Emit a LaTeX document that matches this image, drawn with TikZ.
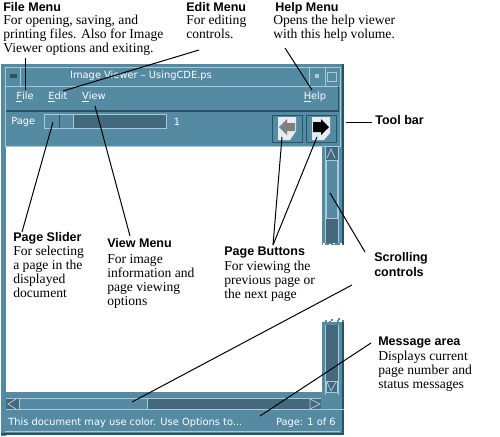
\documentclass[tikz,border=0pt]{standalone}
\usepackage{fontspec}
\setmainfont{Liberation Serif}
\newfontfamily\headfont{Liberation Sans}
\newfontfamily\uifont{DejaVu Sans}
\definecolor{teal1}{HTML}{558AA3}
\definecolor{tealdark}{HTML}{2A5267}
\definecolor{teallight}{HTML}{A8CAD8}
\definecolor{trough}{HTML}{44697C}
\tikzset{
 x=0.75pt,y=-0.75pt,
 head/.style={anchor=north west,inner sep=0pt,font=\headfont\bfseries\fontsize{9.4pt}{11pt}\selectfont},
 body/.style={anchor=north west,inner sep=0pt,align=left,font=\fontsize{10.2pt}{10.5pt}\selectfont},
 ui/.style={inner sep=0pt,text=white,font=\uifont\fontsize{7.4pt}{9pt}\selectfont},
 leader/.style={draw=black,line width=0.75pt},
 bevel/.style={draw=teallight,line width=0.6pt},
 groove/.style={draw=tealdark,line width=0.75pt},
}
\begin{document}
\begin{tikzpicture}
\useasboundingbox (0,0) rectangle (500,436);
\fill[white] (0,0) rectangle (500,436);
% window body
\fill[teal1] (1,64) rectangle (344,147);
\fill[teal1] (1,147) rectangle (6,436);
\fill[teal1] (1,392) rectangle (344,434);
\fill[teal1] (322,147) rectangle (344,245);
\fill[teal1] (322,322) rectangle (344,434);
\fill[tealdark] (342,64) rectangle (344,245);
\fill[tealdark] (342,322) rectangle (344,434);
\fill[tealdark] (1,433) rectangle (344,435);
\draw[bevel] (5,67) rectangle (340,146);
% ragged ends of the cut window
\foreach \xa/\ya in {323/243,326/241,329/244,333/242,337/245,340/243,325/246,331/247,338/248,342/246}
  \fill[white] (\xa,\ya) rectangle (\xa+2,\ya+2);
\foreach \xa/\ya in {323/322,326/324,329/321,333/323,337/320,340/322,325/320,331/319,338/318,342/320}
  \fill[teal1] (\xa,\ya) rectangle (\xa+2,\ya+2);
% title bar
\draw[bevel] (5,67) -- (340,67) (20,67) -- (20,86) (309,67) -- (309,86) (325,67) -- (325,86) (5,86) -- (340,86);
\fill[tealdark] (10,74) rectangle (17,78);
\fill[teallight] (315,74) rectangle (319,78);
\draw[bevel] (327,72) rectangle (336,81);
\node[ui] (title) at (141,76) {Image Viewer – UsingCDE.ps};
% menu bar
\node[ui] (mfile) at (25,97) {\underline{F}ile};
\node[ui] (medit) at (58,97) {\underline{E}dit};
\node[ui] (mview) at (94,97) {\underline{V}iew};
\node[ui] (mhelp) at (315,97) {\underline{H}elp};
\fill[tealdark] (6,110) rectangle (338,112);
\draw[groove] (338,86) -- (338,112);
% tool bar
\node[ui,anchor=west] (plabel) at (11,122) {Page};
\fill[trough] (44,114) rectangle (166,128);
\draw[bevel] (44,114) rectangle (166,128);
\draw[bevel,fill=teal1] (44,114) rectangle (73,128);
\draw[groove] (59,115) -- (59,128);
\node[ui] (pnum) at (177,122) {1};
\draw[groove] (272,115) rectangle (302,142);
\draw[groove] (306,115) rectangle (336,142);
\fill[white!85!teal1] (278,117) -- (296,117) -- (296,131) -- (290,140) -- (278,140) -- cycle;
\fill[white!85!teal1] (312,117) -- (330,117) -- (330,133) -- (324,140) -- (312,140) -- cycle;
\fill[gray] (279,127) -- (287,119) -- (287,123) -- (295,123) -- (295,131) -- (287,131) -- (287,135) -- cycle;
\fill[black] (329,127) -- (321,119) -- (321,122) -- (313,122) -- (313,132) -- (321,132) -- (321,135) -- cycle;
% vertical scrollbar
\fill[trough] (325,147) rectangle (338,243);
\draw[bevel] (325,147) -- (325,243) (338,147) -- (338,243);
\draw[bevel,fill=teal1] (326,160) rectangle (337,218);
\draw[bevel] (327,158) -- (331,149) -- (335,158);
\fill[trough] (325,325) rectangle (338,392);
\draw[bevel] (325,325) -- (325,395) (338,325) -- (338,395);
\draw[bevel] (326,381) rectangle (337,392);
\draw[bevel] (327,382) -- (331,391) -- (336,382);
% horizontal scrollbar
\fill[teal1] (6,392) rectangle (322,398);
\fill[trough] (6,398) rectangle (321,409);
\draw[bevel] (6,398) -- (321,398) (6,409) -- (344,409);
\draw[bevel,fill=teal1] (19,398) rectangle (147,409);
\draw[bevel] (16,399) -- (8,404) -- (16,409);
\draw[bevel] (310,398) -- (310,409) (310,399) -- (320,404) -- (310,409);
\node[ui,anchor=west] (msg) at (8,423) {This document may use color. Use Options to...};
\node[ui,anchor=east] (pageof) at (336,423) {Page: 1 of 6};
\draw[bevel] (5,431) -- (340,431);
% labels
\node[head] (hfile) at (3,2) {File Menu};
\node[body] (bfile) at (3,15) {For opening, saving, and\\printing files. Also for Image\\Viewer options and exiting.};
\node[head] (hedit) at (186,2) {Edit Menu};
\node[body] (bedit) at (186,15) {For editing\\controls.};
\node[head] (hhelp) at (275,2) {Help Menu};
\node[body] (bhelp) at (273,15) {Opens the help viewer\\with this help volume.};
\node[head] (htool) at (375,115) {Tool bar};
\node[head] (hslider) at (13,232) {Page Slider};
\node[body] (bslider) at (13,246) {For selecting\\a page in the\\displayed\\document};
\node[head] (hview) at (107,238) {View Menu};
\node[body] (bview) at (107,254) {For image\\information and\\page viewing\\options};
\node[head] (hbuttons) at (224,247) {Page Buttons};
\node[body] (bbuttons) at (224,261) {For viewing the\\previous page or\\the next page};
\node[head] (hscroll) at (374,252) {Scrolling};
\node[head] (hscroll2) at (374,267) {controls};
\node[head] (hmsg) at (378,337) {Message area};
\node[body] (bmsg) at (378,351) {Displays current\\page number and\\status messages};
% connector ends
\coordinate (cfile) at (25,90);
\coordinate (tfile) at (25,58);
\coordinate (cedit) at (63,91);
\coordinate (tedit) at (199,50);
\coordinate (chelp) at (312,90);
\coordinate (thelp) at (285,48);
\coordinate (cview) at (95,106);
\coordinate (tview) at (130,236);
\coordinate (cslider) at (53,122);
\coordinate (tslider) at (22,232);
\coordinate (cprev) at (282,137);
\coordinate (cnext) at (317,137);
\coordinate (tbtn) at (273,245);
\coordinate (ctool) at (346,122);
\coordinate (ttool) at (372,122);
\coordinate (cvs) at (330,193);
\coordinate (tvs) at (365,252);
\coordinate (chs) at (132,402);
\coordinate (ths) at (352,285);
\coordinate (cmsg) at (260,416);
\coordinate (tmsg) at (371,343);
\draw[leader] (tfile) -- (cfile);
\draw[leader] (tedit) -- (cedit);
\draw[leader] (thelp) -- (chelp);
\draw[leader] (tview) -- (cview);
\draw[leader] (tslider) -- (cslider);
\draw[leader] (tbtn) -- (cprev);
\draw[leader] (tbtn) -- (cnext);
\draw[leader] (ctool) -- (ttool);
\draw[leader] (tvs) -- (cvs);
\draw[leader] (ths) -- (chs);
\draw[leader] (tmsg) -- (cmsg);
\end{tikzpicture}
\end{document}
